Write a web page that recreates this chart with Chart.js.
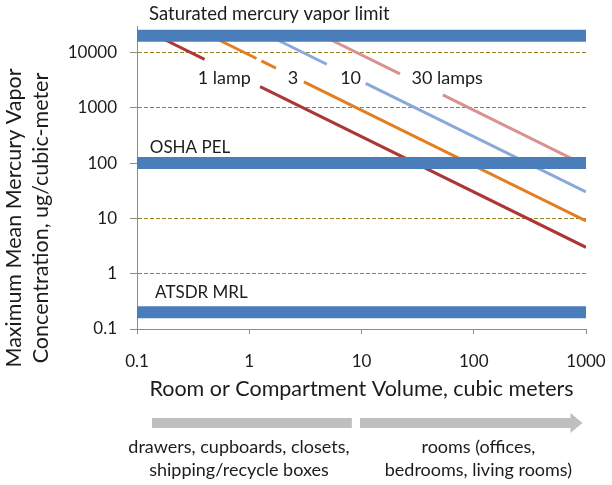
<!DOCTYPE html>
<html>
<head>
<meta charset="utf-8">
<script src="https://cdn.jsdelivr.net/npm/chart.js@4"></script>
<style>
  body { margin: 0; background: #fff; }
  #wrap { width: 612px; height: 485px; }
</style>
</head>
<body>
<div id="wrap"><canvas id="chart" width="612" height="485"></canvas></div>
<script>
const xTicks = [0.1, 1, 10, 100, 1000];
const xTickLabels = ['0.1', '1', '10', '100', '1000'];
const yTicks = [0.1, 1, 10, 100, 1000, 10000];
const yTickLabels = ['0.1', '1', '10', '100', '1000', '10000'];

// reference limits, ug/cubic-meter
const satLimit = 20000;
const oshaPel = 100;
const atsdrMrl = 0.2;
const bandLabels = ['Saturated mercury vapor limit', 'OSHA PEL', 'ATSDR MRL'];

// [volume, concentration]; null = gap left for the label
const lamp1 = [[0.15, 20000], [0.4, 7500], null, [1.25, 2400], [1000, 3]];
const lamp3 = [[0.45, 20000], [1.16, 7750], null, [1.28, 7000], [1.73, 5200], null, [3.07, 2930], [1000, 9]];
const lamp10 = [[1.5, 20000], [4.9, 6100], null, [10.9, 2750], [1000, 30]];
const lamp30 = [[4.5, 20000], [22, 4100], null, [53, 1700], [1000, 90]];

const lampLabels = ['1 lamp', '3', '10', '30 lamps'];
const lampLabelX = [0.6, 2.45, 8.0, 58];
const lampLabelY = 3400;

const FONT = 'Lato, "Open Sans", sans-serif';
const TEXT = '#1c1c1c';

function toPoints(arr) {
    let out = [];
    let last = null;
    arr.forEach(p => {
        if (p === null) {
            out.push({ x: last, y: null });
        } else {
            out.push({ x: p[0], y: p[1] });
            last = p[0];
        }
    });
    return out;
}

function band(value) {
    return {
        data: [{ x: 0.1, y: value }, { x: 1000, y: value }],
        borderColor: '#4a7ebb',
        borderWidth: 12,
        borderCapStyle: 'butt',
        pointRadius: 0,
        showLine: true,
        order: 0
    };
}

function lampLine(arr, color) {
    return {
        data: toPoints(arr),
        borderColor: color,
        borderWidth: 3,
        pointRadius: 0,
        showLine: true,
        spanGaps: false,
        order: 1
    };
}

const annotations = {
    id: 'annotations',
    afterDatasetsDraw(chart) {
        const ctx = chart.ctx;
        const x = chart.scales.x, y = chart.scales.y;
        ctx.save();
        ctx.fillStyle = TEXT;
        ctx.font = '18px ' + FONT;
        ctx.textBaseline = 'middle';
        ctx.textAlign = 'center';
        lampLabels.forEach((t, i) => {
            ctx.fillText(t, x.getPixelForValue(lampLabelX[i]), y.getPixelForValue(lampLabelY));
        });
        ctx.textAlign = 'left';
        ctx.font = '18.5px ' + FONT;
        ctx.fillText(bandLabels[0], x.getPixelForValue(0.128), y.getPixelForValue(49700));
        ctx.font = '17px ' + FONT;
        ctx.fillText(bandLabels[1], x.getPixelForValue(0.13), y.getPixelForValue(187));
        ctx.fillText(bandLabels[2], x.getPixelForValue(0.145), y.getPixelForValue(0.45));
        ctx.restore();
    },
    afterDraw(chart) {
        const ctx = chart.ctx;
        const area = chart.chartArea;
        const x = chart.scales.x;
        ctx.save();
        ctx.fillStyle = TEXT;
        ctx.textAlign = 'center';
        ctx.textBaseline = 'middle';

        // y axis title, two lines
        ctx.save();
        ctx.translate(0, 218);
        ctx.rotate(-Math.PI / 2);
        ctx.font = '21.5px ' + FONT;
        ctx.fillText('Maximum Mean Mercury Vapor', 0, 14);
        ctx.fillText('Concentration, ug/cubic-meter', 0, 41);
        ctx.restore();

        // x axis title
        ctx.font = '21.5px ' + FONT;
        ctx.fillText('Room or Compartment Volume, cubic meters', (area.left + area.right) / 2, area.bottom + 60);

        // grey arrows
        const ay = area.bottom + 94;
        ctx.fillStyle = '#bfbfbf';
        const l0 = x.getPixelForValue(0.136), l1 = x.getPixelForValue(8.2);
        ctx.fillRect(l0, ay - 5, l1 - l0, 10);
        const r0 = x.getPixelForValue(9.7), tip = x.getPixelForValue(930);
        ctx.beginPath();
        ctx.moveTo(r0, ay - 5);
        ctx.lineTo(tip - 12, ay - 5);
        ctx.lineTo(tip - 12, ay - 10);
        ctx.lineTo(tip, ay);
        ctx.lineTo(tip - 12, ay + 10);
        ctx.lineTo(tip - 12, ay + 5);
        ctx.lineTo(r0, ay + 5);
        ctx.closePath();
        ctx.fill();

        // category text under the arrows
        ctx.fillStyle = TEXT;
        ctx.font = '18px ' + FONT;
        const lx = x.getPixelForValue(0.81), rx = x.getPixelForValue(110);
        ctx.fillText('drawers, cupboards, closets,', lx, area.bottom + 118);
        ctx.fillText('shipping/recycle boxes', lx, area.bottom + 141);
        ctx.fillText('rooms (offices,', rx, area.bottom + 118);
        ctx.fillText('bedrooms, living rooms)', rx, area.bottom + 141);
        ctx.restore();
    }
};

const ctx = document.getElementById('chart').getContext('2d');
new Chart(ctx, {
    type: 'scatter',
    data: {
        datasets: [
            band(satLimit),
            band(oshaPel),
            band(atsdrMrl),
            lampLine(lamp1, '#ad3636'),
            lampLine(lamp3, '#e37f22'),
            lampLine(lamp10, '#8aa8da'),
            lampLine(lamp30, '#d9928f')
        ]
    },
    options: {
        responsive: false,
        animation: false,
        layout: { padding: { left: 0, right: 26, top: 26, bottom: 0 } },
        plugins: {
            legend: { display: false },
            tooltip: { enabled: false }
        },
        scales: {
            x: {
                type: 'logarithmic',
                min: 0.1,
                max: 1000,
                afterFit: s => { s.height = 156; s.paddingLeft = 0; s.paddingRight = 0; },
                afterBuildTicks: s => { s.ticks = xTicks.map(v => ({ value: v })); },
                ticks: {
                    callback: (v) => xTickLabels[xTicks.indexOf(v)],
                    color: TEXT,
                    font: { family: FONT, size: 17 },
                    padding: 17,
                    maxRotation: 0,
                    autoSkip: false
                },
                grid: {
                    drawOnChartArea: false,
                    drawTicks: true,
                    tickLength: 5,
                    tickColor: '#8c8c8c'
                },
                border: { color: '#8c8c8c', width: 1 }
            },
            y: {
                type: 'logarithmic',
                min: 0.1,
                max: 30000,
                afterFit: s => { s.width = 137; s.paddingTop = 0; s.paddingBottom = 0; },
                afterBuildTicks: s => { s.ticks = yTicks.map(v => ({ value: v })); },
                ticks: {
                    callback: (v) => yTickLabels[yTicks.indexOf(v)],
                    color: TEXT,
                    font: { family: FONT, size: 17 },
                    padding: 13,
                    autoSkip: false
                },
                grid: {
                    color: c => (c.tick && c.tick.value === 0.1) ? 'rgba(0,0,0,0)' : '#968428',
                    lineWidth: 1,
                    tickLength: 7,
                    tickColor: '#8c8c8c',
                    tickBorderDash: []
                },
                border: { color: '#8c8c8c', width: 1, dash: [4, 2] }
            }
        }
    },
    plugins: [annotations]
});
</script>
</body>
</html>
